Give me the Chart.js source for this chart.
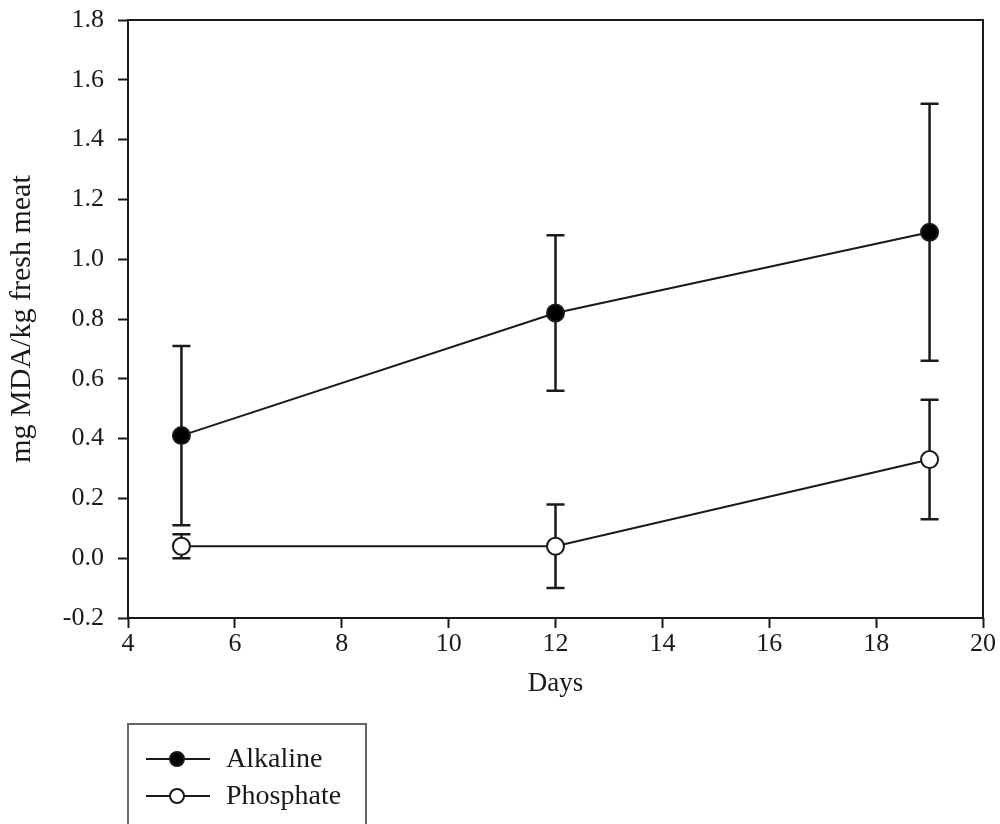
<!DOCTYPE html>
<html>
<head>
<meta charset="utf-8">
<script src="https://cdn.jsdelivr.net/npm/chart.js@4/dist/chart.umd.min.js"></script>
<style>
    html, body { margin: 0; padding: 0; background: #fff; }
    #wrap { width: 1000px; height: 824px; position: relative; }
</style>
</head>
<body>
<div id="wrap"><canvas id="mdaChart"></canvas></div>
<script>
const days = [5, 12, 19];
const alkalineMean = [0.41, 0.82, 1.09];
const alkalineErr = [0.30, 0.26, 0.43];
const phosphateMean = [0.04, 0.04, 0.33];
const phosphateErr = [0.04, 0.14, 0.20];
const xTicks = [4, 6, 8, 10, 12, 14, 16, 18, 20];
const yTicks = [-0.2, 0.0, 0.2, 0.4, 0.6, 0.8, 1.0, 1.2, 1.4, 1.6, 1.8];

const serif = "'Liberation Serif', 'Times New Roman', serif";
const ink = '#1a1a1a';

function toPoints(ys) {
    return days.map((d, i) => ({ x: d, y: ys[i] }));
}

// error bars with caps, under the markers
const errorBars = {
    id: 'errorBars',
    beforeDatasetsDraw(chart) {
        const ctx = chart.ctx;
        const xs = chart.scales.x, ys = chart.scales.y;
        ctx.save();
        ctx.strokeStyle = ink;
        ctx.lineWidth = 2.5;
        chart.data.datasets.forEach(ds => {
            ds.data.forEach((p, i) => {
                const e = ds.errors[i];
                const px = xs.getPixelForValue(p.x);
                const top = ys.getPixelForValue(p.y + e);
                const bot = ys.getPixelForValue(p.y - e);
                ctx.beginPath();
                ctx.moveTo(px, top); ctx.lineTo(px, bot);
                ctx.moveTo(px - 9, top); ctx.lineTo(px + 9, top);
                ctx.moveTo(px - 9, bot); ctx.lineTo(px + 9, bot);
                ctx.stroke();
            });
        });
        ctx.restore();
    }
};

// full frame around the plot
const frame = {
    id: 'frame',
    afterDatasetsDraw(chart) {
        const { ctx, chartArea: a } = chart;
        ctx.save();
        ctx.strokeStyle = ink;
        ctx.lineWidth = 2;
        ctx.strokeRect(a.left, a.top, a.right - a.left, a.bottom - a.top);
        ctx.restore();
    }
};

// boxed legend below the plot, like the original
const boxLegend = {
    id: 'boxLegend',
    afterDraw(chart) {
        const ctx = chart.ctx;
        ctx.save();
        ctx.strokeStyle = '#666';
        ctx.lineWidth = 2;
        ctx.strokeRect(128, 724, 238, 110);
        ctx.font = '28px ' + serif;
        ctx.textBaseline = 'middle';
        chart.data.datasets.forEach((ds, i) => {
            const y = 759 + i * 37;
            ctx.strokeStyle = ink;
            ctx.lineWidth = 2;
            ctx.beginPath();
            ctx.moveTo(146, y); ctx.lineTo(210, y);
            ctx.stroke();
            ctx.beginPath();
            ctx.arc(177, y, 7, 0, Math.PI * 2);
            ctx.fillStyle = ds.pointBackgroundColor;
            ctx.fill();
            ctx.stroke();
            ctx.fillStyle = ink;
            ctx.fillText(ds.label, 226, y + 1);
        });
        ctx.restore();
    }
};

new Chart(document.getElementById('mdaChart'), {
    type: 'line',
    data: {
        datasets: [{
            label: 'Alkaline',
            data: toPoints(alkalineMean),
            errors: alkalineErr,
            borderColor: ink,
            borderWidth: 2,
            pointRadius: 8.5,
            pointBackgroundColor: '#000',
            pointBorderColor: ink,
            pointBorderWidth: 2,
            tension: 0
        }, {
            label: 'Phosphate',
            data: toPoints(phosphateMean),
            errors: phosphateErr,
            borderColor: ink,
            borderWidth: 2,
            pointRadius: 8.5,
            pointBackgroundColor: '#fff',
            pointBorderColor: ink,
            pointBorderWidth: 2,
            tension: 0
        }]
    },
    options: {
        responsive: true,
        maintainAspectRatio: false,
        animation: false,
        layout: { padding: { left: 0, right: 17, top: 20, bottom: 124 } },
        plugins: {
            legend: { display: false },
            tooltip: { enabled: false }
        },
        scales: {
            x: {
                type: 'linear',
                min: 4,
                max: 20,
                afterBuildTicks: s => { s.ticks = xTicks.map(v => ({ value: v })); },
                afterFit: s => { s.height = 82; s.paddingLeft = 0; s.paddingRight = 0; },
                border: { display: false },
                grid: { drawOnChartArea: false, tickLength: 10, color: ink, tickWidth: 2 },
                ticks: { color: ink, padding: 1, font: { family: serif, size: 26 } },
                title: { display: true, text: 'Days', color: ink, padding: 0, font: { family: serif, size: 27 } }
            },
            y: {
                min: -0.2,
                max: 1.8,
                afterBuildTicks: s => { s.ticks = yTicks.map(v => ({ value: v })); },
                afterFit: s => { s.width = 128; s.paddingTop = 0; s.paddingBottom = 0; },
                border: { display: false },
                grid: { drawOnChartArea: false, tickLength: 10, color: ink, tickWidth: 2 },
                ticks: {
                    color: ink,
                    padding: 14,
                    font: { family: serif, size: 26 },
                    callback: v => v.toFixed(1)
                },
                title: { display: true, text: 'mg MDA/kg fresh meat', color: ink, padding: { top: 4, bottom: 0 }, font: { family: serif, size: 30 } }
            }
        }
    },
    plugins: [errorBars, frame, boxLegend]
});
</script>
</body>
</html>
